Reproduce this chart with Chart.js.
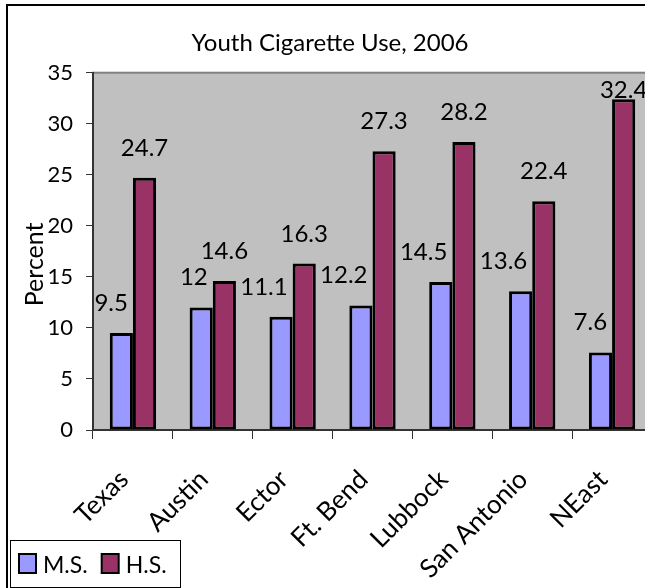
<!DOCTYPE html>
<html>
<head>
<meta charset="UTF-8">
<title>Youth Cigarette Use, 2006</title>
<script src="https://cdn.jsdelivr.net/npm/chart.js"></script>
<style>
  body { margin: 0; overflow: hidden; background: #fff; }
  #wrap { position: relative; width: 660px; height: 588px; }
</style>
</head>
<body>
<div id="wrap"><canvas id="chart"></canvas></div>
<script>
// data
const categories = ['Texas', 'Austin', 'Ector', 'Ft. Bend', 'Lubbock', 'San Antonio', 'NEast'];
const msValues = [9.5, 12, 11.1, 12.2, 14.5, 13.6, 7.6];
const hsValues = [24.7, 14.6, 16.3, 27.3, 28.2, 22.4, 32.4];
const yTicks = [0, 5, 10, 15, 20, 25, 30, 35];
const seriesNames = ['M.S.', 'H.S.'];
const seriesColors = ['#9999FF', '#993366'];
const yTitle = 'Percent';

const FONT = 'Lato';

// white page, outer frame and grey plot area
const backdrop = {
  id: 'backdrop',
  beforeDraw(chart) {
    const ctx = chart.ctx;
    const a = chart.chartArea;
    ctx.save();
    ctx.fillStyle = '#fff';
    ctx.fillRect(0, 0, chart.width, chart.height);
    ctx.strokeStyle = '#000';
    ctx.lineWidth = 2;
    ctx.strokeRect(7, 5, chart.width + 20, chart.height + 20);
    ctx.fillStyle = '#C0C0C0';
    ctx.fillRect(a.left, a.top, a.right - a.left, a.bottom - a.top);
    ctx.strokeStyle = '#808080';
    ctx.strokeRect(a.left, a.top, a.right - a.left, a.bottom - a.top);
    ctx.restore();
  }
};

// y axis title, sits a little below the middle like in the original
const axisTitle = {
  id: 'axisTitle',
  afterDraw(chart) {
    const ctx = chart.ctx;
    const a = chart.chartArea;
    ctx.save();
    ctx.translate(34.5, (a.top + a.bottom) / 2 + 13);
    ctx.rotate(-Math.PI / 2);
    ctx.font = '25px ' + FONT;
    ctx.fillStyle = '#000';
    ctx.textAlign = 'center';
    ctx.textBaseline = 'middle';
    ctx.fillText(yTitle, 0, 0);
    ctx.restore();
  }
};

// value labels above the bars
const valueLabels = {
  id: 'valueLabels',
  afterDatasetsDraw(chart) {
    const ctx = chart.ctx;
    ctx.save();
    ctx.font = '24px ' + FONT;
    ctx.fillStyle = '#000';
    ctx.textBaseline = 'alphabetic';
    chart.data.datasets.forEach((ds, i) => {
      chart.getDatasetMeta(i).data.forEach((bar, j) => {
        const y = Math.max(bar.y - 22, chart.chartArea.top + 25.5);
        if (i === 0) {
          ctx.textAlign = 'right';
          ctx.fillText(String(ds.data[j]), bar.x + bar.width / 2 - 5, y);
        } else {
          ctx.textAlign = 'center';
          ctx.fillText(String(ds.data[j]), bar.x, y);
        }
      });
    });
    ctx.restore();
  }
};

// boxed legend in the lower left corner
const boxLegend = {
  id: 'boxLegend',
  afterDraw(chart) {
    const ctx = chart.ctx;
    ctx.save();
    ctx.strokeStyle = '#000';
    ctx.lineWidth = 1;
    ctx.strokeRect(10.5, 540.5, 170, 47);
    ctx.font = '23px ' + FONT;
    ctx.textBaseline = 'alphabetic';
    ctx.textAlign = 'left';
    let x = 19;
    chart.data.datasets.forEach(ds => {
      ctx.fillStyle = ds.backgroundColor;
      ctx.fillRect(x, 554, 17, 19);
      ctx.lineWidth = 2;
      ctx.strokeRect(x, 554, 17, 19);
      ctx.fillStyle = '#000';
      ctx.fillText(ds.label, x + 24, 573);
      x += 24 + ctx.measureText(ds.label).width + 14;
    });
    ctx.restore();
  }
};

new Chart(document.getElementById('chart'), {
  type: 'bar',
  data: {
    labels: categories,
    datasets: [
      { label: seriesNames[0], data: msValues, backgroundColor: seriesColors[0] },
      { label: seriesNames[1], data: hsValues, backgroundColor: seriesColors[1] }
    ]
  },
  options: {
    responsive: true,
    maintainAspectRatio: false,
    animation: false,
    layout: { padding: { left: 8, right: 8, top: 0, bottom: 0 } },
    datasets: {
      bar: {
        borderColor: '#000',
        borderWidth: 3,
        borderSkipped: false,
        barPercentage: 1,
        categoryPercentage: 0.58
      }
    },
    plugins: {
      legend: { display: false },
      tooltip: { enabled: false },
      title: {
        display: true,
        text: 'Youth Cigarette Use, 2006',
        color: '#000',
        font: { family: FONT, size: 24, weight: 'normal' },
        padding: { top: 28.6, bottom: 15.3 }
      }
    },
    scales: {
      x: {
        grid: { drawOnChartArea: false, drawTicks: true, tickLength: 9, color: '#333' },
        border: { color: '#333', width: 2 },
        ticks: {
          color: '#000',
          font: { family: FONT, size: 26 },
          minRotation: 45,
          maxRotation: 45,
          autoSkip: false,
          labelOffset: -9,
          padding: 25
        },
        afterFit(s) { s.height = 158; }
      },
      y: {
        min: 0,
        max: 35,
        afterBuildTicks(s) { s.ticks = yTicks.map(v => ({ value: v })); },
        grid: { drawOnChartArea: false, drawTicks: true, tickLength: 7, color: '#333' },
        border: { color: '#333', width: 2 },
        ticks: {
          color: '#000',
          font: { family: FONT, size: 22 },
          padding: 13
        },
        afterFit(s) { s.width = 85; }
      }
    }
  },
  plugins: [backdrop, axisTitle, valueLabels, boxLegend]
});
</script>
</body>
</html>
